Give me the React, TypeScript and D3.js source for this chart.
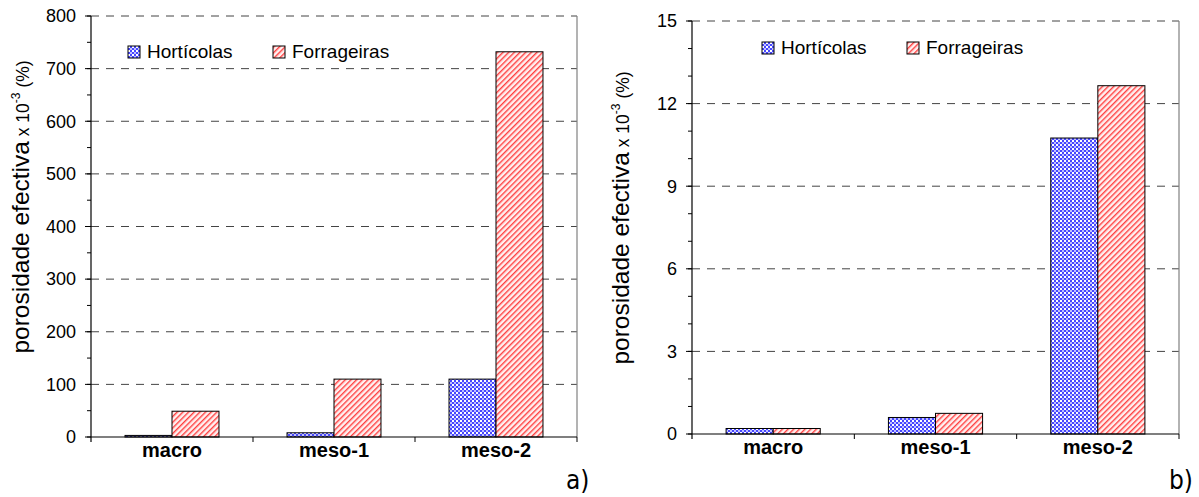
import React from "react";
import * as d3 from "d3";

const categories = ["macro", "meso-1", "meso-2"];
const seriesNames = ["Hortícolas", "Forrageiras"];
const hortA = [3, 8, 110];
const forrA = [49, 110, 732];
const hortB = [0.2, 0.6, 10.75];
const forrB = [0.2, 0.75, 12.65];
const ticksA = [0, 100, 200, 300, 400, 500, 600, 700, 800];
const ticksB = [0, 3, 6, 9, 12, 15];

const FONT = "'Liberation Sans', Arial, sans-serif";

type PanelProps = {
  left: number; right: number; top: number; bottom: number;
  max: number; ticks: number[]; minorStep: number;
  hort: number[]; forr: number[];
  legendX: number; legendY: number; legendGap: number;
  titleX: number; titleY: number;
  tag: string; tagX: number;
};

function Panel(p: PanelProps) {
  const y = d3.scaleLinear().domain([0, p.max]).range([p.bottom, p.top]);
  const x0 = d3.scaleBand<string>().domain(categories).range([p.left, p.right]).padding(0);
  const bw = x0.bandwidth();
  const groupW = bw * 0.58;
  const x1 = d3.scaleBand<string>().domain(seriesNames).range([(bw - groupW) / 2, (bw + groupW) / 2]).padding(0);
  const minor = d3.range(0, p.max + 1e-9, p.minorStep);
  const fills = ["url(#patHort)", "url(#patForr)"];
  const vals = [p.hort, p.forr];
  return (
    <g>
      {p.ticks.filter((t) => t > 0).map((t) => (
        <line key={"g" + t} x1={p.left} x2={p.right} y1={y(t)} y2={y(t)} stroke="#444" strokeWidth={1} strokeDasharray="8,7" />
      ))}
      <line x1={p.right} x2={p.right} y1={p.top} y2={p.bottom} stroke="#808080" strokeWidth={1.2} />
      {categories.map((c, i) =>
        seriesNames.map((s, j) => {
          const v = vals[j][i];
          const bx = (x0(c) as number) + (x1(s) as number);
          return (
            <rect key={c + s} x={bx} y={y(v)} width={x1.bandwidth()} height={p.bottom - y(v)}
              fill={fills[j]} stroke="#000" strokeWidth={1} />
          );
        })
      )}
      <line x1={p.left} x2={p.left} y1={p.top} y2={p.bottom + 5} stroke="#000" strokeWidth={1.2} />
      {minor.map((t) => (
        <line key={"m" + t} x1={p.left - 4} x2={p.left} y1={y(t)} y2={y(t)} stroke="#000" strokeWidth={1} />
      ))}
      {p.ticks.map((t) => (
        <g key={"t" + t}>
          <line x1={p.left - 6} x2={p.left} y1={y(t)} y2={y(t)} stroke="#000" strokeWidth={1} />
          <text x={p.left - 15} y={y(t)} dy="0.35em" textAnchor="end" fontSize={18} fontFamily={FONT} fill="#000">{t}</text>
        </g>
      ))}
      <line x1={p.left} x2={p.right} y1={p.bottom} y2={p.bottom} stroke="#000" strokeWidth={1.2} />
      {categories.map((c, i) => (
        <line key={"xt" + i} x1={(x0(c) as number) + bw} x2={(x0(c) as number) + bw} y1={p.bottom} y2={p.bottom + 5} stroke="#000" strokeWidth={1} />
      ))}
      {categories.map((c) => (
        <text key={"xl" + c} x={(x0(c) as number) + bw / 2} y={p.bottom + 20} textAnchor="middle" fontSize={20} fontWeight="bold" fontFamily={FONT} fill="#000">{c}</text>
      ))}
      {seriesNames.map((s, j) => (
        <g key={"lg" + s} transform={`translate(${p.legendX + j * p.legendGap},${p.legendY})`}>
          <rect x={0} y={-12} width={12} height={12} fill={fills[j]} stroke="#000" strokeWidth={1} />
          <text x={19} y={0} fontSize={19} fontFamily={FONT} fill="#000">{s}</text>
        </g>
      ))}
      <text transform={`translate(${p.titleX},${p.titleY}) rotate(-90)`} textAnchor="middle" fontFamily={FONT} fill="#000">
        <tspan fontSize={24.5}>porosidade efectiva</tspan>
        <tspan fontSize={17.5}> x 10</tspan>
        <tspan fontSize={12} dy={-9}>-3</tspan>
        <tspan fontSize={17.5} dy={9}> (%)</tspan>
      </text>
      <text x={p.tagX} y={489} fontSize={26} fontFamily="'Liberation Sans Narrow', 'DejaVu Sans Condensed', sans-serif" fill="#000">{p.tag}</text>
    </g>
  );
}

export default function App() {
  return (
    <svg width={1199} height={497} style={{ position: "absolute", left: 0, top: 0, background: "#fff" }}>
      <defs>
        <pattern id="patHort" width={4} height={4} patternUnits="userSpaceOnUse">
          <rect width={4} height={4} fill="#4848ff" />
          <rect x={0} y={0} width={2} height={2} fill="#ffffff" />
          <rect x={2} y={2} width={2} height={2} fill="#c0c0ff" />
        </pattern>
        <pattern id="patForr" width={4} height={4} patternUnits="userSpaceOnUse" patternTransform="rotate(45)">
          <rect width={4} height={4} fill="#fff0f0" />
          <rect x={0} y={0} width={1.4} height={4} fill="#ff4040" />
        </pattern>
      </defs>
      <rect width={1199} height={497} fill="#fff" />
      <Panel left={91} right={577} top={16} bottom={437} max={800} ticks={ticksA} minorStep={50}
        hort={hortA} forr={forrA} legendX={128} legendY={58} legendGap={145}
        titleX={29} titleY={207} tag="a)" tagX={566} />
      <Panel left={692} right={1179} top={21} bottom={434} max={15} ticks={ticksB} minorStep={1}
        hort={hortB} forr={forrB} legendX={762} legendY={54} legendGap={145}
        titleX={629} titleY={218} tag="b)" tagX={1169} />
    </svg>
  );
}
